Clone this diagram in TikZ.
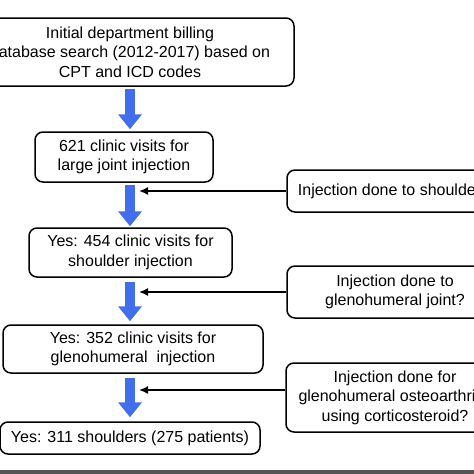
\documentclass[tikz,border=0pt]{standalone}
\usepackage{fontspec}
\setmainfont{Liberation Sans}
\usetikzlibrary{arrows.meta,calc}
\definecolor{flowblue}{RGB}{66,110,238}
\definecolor{barGray}{RGB}{85,85,85}
\begin{document}
\begin{tikzpicture}[x=1pt,y=-1pt,
  box/.style={draw=black, line width=1.5pt, rounded corners=8pt, inner sep=0pt,
    align=center, font=\fontsize{16}{19.5}\selectfont, fill=white},
  flow/.style={draw=flowblue, line width=10pt, -{Triangle[width=23pt,length=15pt]}},
  check/.style={draw=black, line width=1.6pt, -{Latex[length=9pt,width=8pt]}}
]
\clip (0,0) rectangle (474,474);
\fill[white] (0,0) rectangle (474,474);
\fill[barGray] (0,470) rectangle (474,474);

\node[box, minimum width=328pt, minimum height=68pt] (b1) at (130,52)
  {Initial department billing\\database search (2012-2017) based on\\CPT and ICD codes};
\node[box, minimum width=178pt, minimum height=50pt] (b2) at (124,157)
  {621 clinic visits for\\large joint injection};
\node[box, minimum width=203pt, minimum height=49pt] (b3) at (130.5,252.5)
  {Yes: 454 clinic visits for\\shoulder injection};
\node[box, minimum width=260pt, minimum height=48pt] (b4) at (133,349)
  {Yes: 352 clinic visits for\\glenohumeral\ \ injection};
\node[box, minimum width=260pt, minimum height=32pt] (b5) at (130,438)
  {Yes: 311 shoulders (275 patients)};

\node[box, minimum width=214pt, minimum height=42pt] (r1) at (394,191)
  {Injection done to shoulder?};
\node[box, minimum width=216pt, minimum height=52pt] (r2) at (395,292)
  {Injection done to\\glenohumeral joint?};
\node[box, minimum width=218pt, minimum height=69pt] (r3) at (395,397.5)
  {Injection done for\\glenohumeral osteoarthritis\\using corticosteroid?};

\coordinate (ax) at (130,0);
\coordinate (tx) at (139,0);

\draw[flow] ($(b1.south -| ax)+(0,2)$) -- ($(b2.north -| ax)+(0,-2)$);
\draw[flow] ($(b2.south -| ax)+(0,2)$) -- ($(b3.north -| ax)+(0,-1)$);
\draw[flow] ($(b3.south -| ax)+(0,4)$) -- ($(b4.north -| ax)+(0,-3)$);
\draw[flow] ($(b4.south -| ax)+(0,4)$) -- ($(b5.north -| ax)+(0,-4)$);

\draw[check] (r1.west) -- (r1.west -| tx);
\draw[check] (r2.west) -- (r2.west -| tx);
\coordinate (r3in) at ($(r3.west)+(0,-7.5)$);
\draw[check] (r3in) -- (r3in -| tx);
\end{tikzpicture}
\end{document}
